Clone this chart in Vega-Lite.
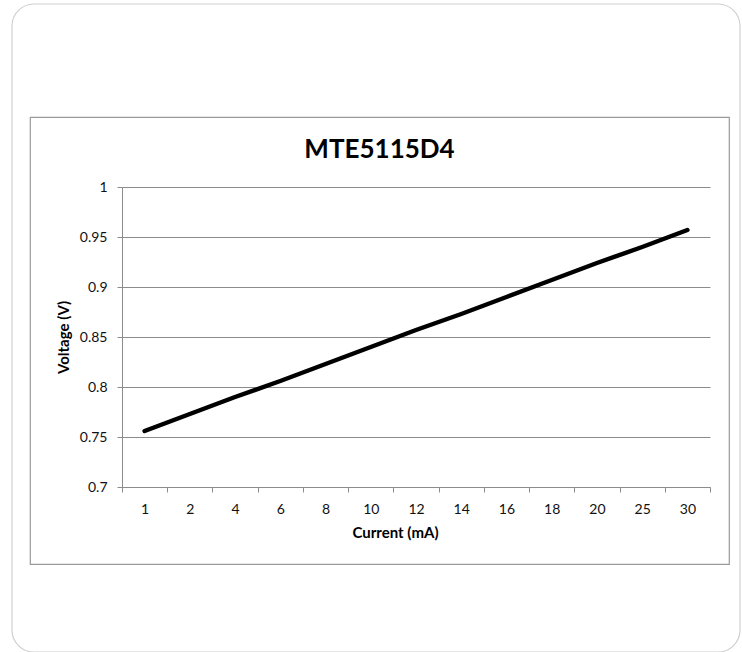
{
  "$schema": "https://vega.github.io/schema/vega-lite/v6.json",
  "width": 699,
  "height": 447,
  "autosize": {"type": "none"},
  "padding": {"left": 30, "top": 117, "right": 13, "bottom": 88},
  "background": "white",
  "config": {
    "view": {"stroke": "#9a9a9a", "strokeWidth": 1.2},
    "font": "Lato"
  },
  "title": {
    "text": "MTE5115D4",
    "font": "Lato",
    "fontSize": 26,
    "fontWeight": "bold",
    "color": "#000000",
    "anchor": "middle",
    "baseline": "alphabetic",
    "offset": -181
  },
  "layer": [
    {
      "data": {"values": [{}]},
      "mark": {
        "type": "rect",
        "x": -18,
        "x2": 710,
        "y": -113,
        "y2": 535,
        "cornerRadius": 22,
        "fill": "transparent",
        "stroke": "#cfcfcf",
        "strokeWidth": 1.2
      }
    },
    {
      "data": {
        "values": [
          {"current": 1, "voltage": 0.756},
          {"current": 2, "voltage": 0.773},
          {"current": 4, "voltage": 0.790},
          {"current": 6, "voltage": 0.806},
          {"current": 8, "voltage": 0.823},
          {"current": 10, "voltage": 0.840},
          {"current": 12, "voltage": 0.857},
          {"current": 14, "voltage": 0.873},
          {"current": 16, "voltage": 0.890},
          {"current": 18, "voltage": 0.907},
          {"current": 20, "voltage": 0.924},
          {"current": 25, "voltage": 0.940},
          {"current": 30, "voltage": 0.957}
        ]
      },
      "mark": {"type": "line", "color": "#000000", "strokeWidth": 4.5, "strokeCap": "round", "strokeJoin": "round"},
      "encoding": {
        "x": {
          "field": "current",
          "type": "ordinal",
          "scale": {"type": "band", "range": [92, 680], "paddingInner": 0, "paddingOuter": 0},
          "axis": {
            "title": "Current (mA)",
            "orient": "bottom",
            "offset": -77,
            "tickBand": "extent",
            "labelAngle": 0,
            "grid": false,
            "domainColor": "#8c8c8c",
            "tickColor": "#8c8c8c",
            "tickSize": 5,
            "labelPadding": 10,
            "labelFont": "Lato",
            "labelFontSize": 14,
            "labelColor": "#111111",
            "titleFont": "Lato",
            "titleFontSize": 15,
            "titleFontWeight": "bold",
            "titleColor": "#000000",
            "titlePadding": 9,
            "titleX": 365
          }
        },
        "y": {
          "field": "voltage",
          "type": "quantitative",
          "scale": {"domain": [0.7, 1], "range": [370, 70], "nice": false, "zero": false},
          "axis": {
            "title": "Voltage (V)",
            "offset": -92,
            "values": [0.7, 0.75, 0.8, 0.85, 0.9, 0.95, 1],
            "format": "~g",
            "grid": true,
            "gridColor": "#8c8c8c",
            "domainColor": "#8c8c8c",
            "tickColor": "#8c8c8c",
            "tickSize": 5,
            "labelPadding": 10,
            "labelFont": "Lato",
            "labelFontSize": 14,
            "labelColor": "#111111",
            "titleFont": "Lato",
            "titleFontSize": 15,
            "titleFontWeight": "bold",
            "titleColor": "#000000",
            "titlePadding": 8
          }
        }
      }
    }
  ]
}
